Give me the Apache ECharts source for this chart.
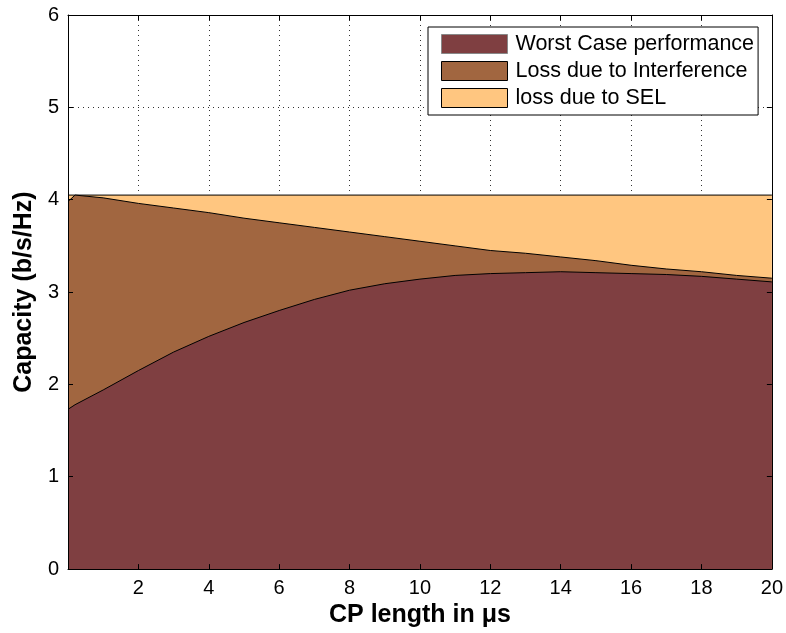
<!DOCTYPE html>
<html>
<head>
<meta charset="utf-8">
<title>Capacity vs CP length</title>
<script src="https://cdn.jsdelivr.net/npm/echarts@6/dist/echarts.min.js"></script>
<style>
  html, body { margin: 0; padding: 0; background: #fff; }
  #chart { width: 786px; height: 633px; }
</style>
</head>
<body>
<div id="chart"></div>
<script>
// CP length (µs) sample points
const cpLength = [0, 0.2, 1, 2, 3, 4, 5, 6, 7, 8, 9, 10, 11, 12, 13, 14, 15, 16, 17, 18, 19, 20];
// Worst case capacity (b/s/Hz)
const worstCase = [1.73, 1.78, 1.94, 2.15, 2.35, 2.52, 2.67, 2.80, 2.92, 3.02, 3.09, 3.14, 3.18, 3.20, 3.21, 3.22, 3.21, 3.20, 3.19, 3.17, 3.14, 3.11];
// Capacity with interference loss removed (upper edge of the interference band)
const interferenceTop = [3.98, 4.05, 4.02, 3.96, 3.91, 3.86, 3.80, 3.75, 3.70, 3.65, 3.60, 3.55, 3.50, 3.45, 3.42, 3.38, 3.34, 3.29, 3.25, 3.22, 3.18, 3.15];
// Capacity with SEL loss removed (constant ceiling)
const selTop = 4.05;
const xRange = [0, 20];
const yRange = [0, 6];
const seriesNames = ['Worst Case performance', 'Loss due to Interference', 'loss due to SEL'];
const colors = ['#7f3f41', '#a16640', '#ffc680'];

const pairs = (xs, ys) => xs.map((x, i) => [x, ys[i]]);

const font = 'Liberation Sans, Arial, Helvetica, sans-serif';

const baseX = { type: 'value', min: xRange[0], max: xRange[1], interval: 2 };
const baseY = { type: 'value', min: yRange[0], max: yRange[1], interval: 1 };
const boxLine = { show: true, onZero: false, lineStyle: { color: '#000', width: 1 } };
const boxTick = { show: true, inside: true, length: 5, lineStyle: { color: '#000' } };
const gridDots = { show: true, lineStyle: { color: '#333', type: [1, 4], width: 1 } };

const chart = echarts.init(document.getElementById('chart'), null, { renderer: 'canvas' });

chart.setOption({
  animation: false,
  backgroundColor: '#fff',
  grid: { left: 68, right: 14, top: 15, bottom: 63 },
  legend: {
    orient: 'vertical',
    left: 428,
    top: 27,
    padding: [6, 4, 6, 13],
    itemWidth: 66,
    itemHeight: 19,
    itemGap: 5,
    icon: 'rect',
    backgroundColor: '#fff',
    borderColor: '#000',
    borderWidth: 1,
    textStyle: { fontFamily: font, fontSize: 21.5, color: '#000', padding: [0, 0, 0, 3] },
    data: [
      { name: seriesNames[0], itemStyle: { color: colors[0], borderColor: '#888', borderWidth: 1 } },
      { name: seriesNames[1], itemStyle: { color: colors[1], borderColor: '#000', borderWidth: 1 } },
      { name: seriesNames[2], itemStyle: { color: colors[2], borderColor: '#000', borderWidth: 1 } }
    ]
  },
  xAxis: [
    // labels, title and dotted grid, beneath the areas
    Object.assign({}, baseX, {
      position: 'bottom',
      name: 'CP length in \u03bcs',
      nameLocation: 'middle',
      nameGap: 26,
      nameTextStyle: { fontFamily: font, fontSize: 25, fontWeight: 'bold', color: '#000' },
      axisLine: { show: false },
      axisTick: { show: false },
      axisLabel: { showMinLabel: false, margin: 9, fontFamily: font, fontSize: 20, color: '#000' },
      splitLine: gridDots
    }),
    // frame: bottom edge
    Object.assign({}, baseX, {
      position: 'bottom', z: 10,
      axisLine: boxLine, axisTick: boxTick,
      axisLabel: { show: false }, splitLine: { show: false }
    }),
    // frame: top edge
    Object.assign({}, baseX, {
      position: 'top', z: 10,
      axisLine: boxLine, axisTick: boxTick,
      axisLabel: { show: false }, splitLine: { show: false }
    })
  ],
  yAxis: [
    Object.assign({}, baseY, {
      position: 'left',
      name: 'Capacity (b/s/Hz)',
      nameLocation: 'middle',
      nameGap: 30,
      nameTextStyle: { fontFamily: font, fontSize: 25, fontWeight: 'bold', color: '#000' },
      axisLine: { show: false },
      axisTick: { show: false },
      axisLabel: { margin: 9, fontFamily: font, fontSize: 20, color: '#000' },
      splitLine: gridDots
    }),
    Object.assign({}, baseY, {
      position: 'left', z: 10,
      axisLine: boxLine, axisTick: boxTick,
      axisLabel: { show: false }, splitLine: { show: false }
    }),
    Object.assign({}, baseY, {
      position: 'right', z: 10,
      axisLine: boxLine, axisTick: boxTick,
      axisLabel: { show: false }, splitLine: { show: false }
    })
  ],
  series: [
    {
      name: seriesNames[2],
      type: 'line',
      data: [[xRange[0], selTop], [xRange[1], selTop]],
      symbol: 'none',
      lineStyle: { color: '#000', width: 1 },
      itemStyle: { color: colors[2] },
      areaStyle: { color: colors[2], opacity: 1 },
      z: 2
    },
    {
      name: seriesNames[1],
      type: 'line',
      data: pairs(cpLength, interferenceTop),
      symbol: 'none',
      lineStyle: { color: '#000', width: 1 },
      itemStyle: { color: colors[1] },
      areaStyle: { color: colors[1], opacity: 1 },
      z: 3
    },
    {
      name: seriesNames[0],
      type: 'line',
      data: pairs(cpLength, worstCase),
      symbol: 'none',
      lineStyle: { color: '#000', width: 1 },
      itemStyle: { color: colors[0] },
      areaStyle: { color: colors[0], opacity: 1 },
      z: 4
    }
  ]
});
</script>
</body>
</html>
